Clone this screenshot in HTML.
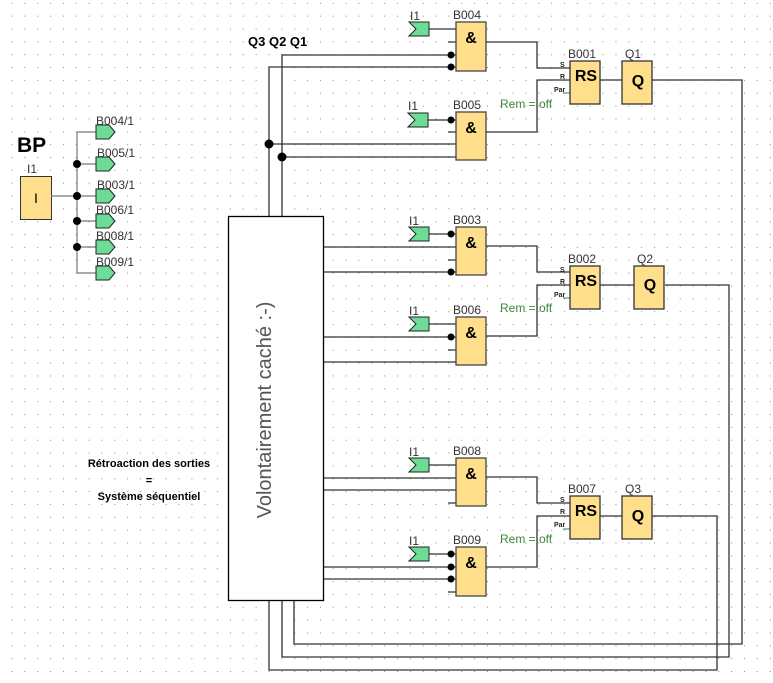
<!DOCTYPE html>
<html><head><meta charset="utf-8"><style>
html,body{margin:0;padding:0;background:#fff}
svg{display:block}
text{font-family:"Liberation Sans",sans-serif}
</style></head><body>
<svg width="773" height="683" viewBox="0 0 773 683" xmlns="http://www.w3.org/2000/svg">
<defs>
<pattern id="g" x="11.5" y="2.8" width="12.85" height="12.85" patternUnits="userSpaceOnUse">
<rect x="0" y="0" width="1" height="1" fill="#888"/>
</pattern>
<g id="flag"><path d="M0,0 H20 V14 H0 L7,7 Z" fill="#6ddc96" stroke="#222" stroke-width="1"/></g>
<g id="out"><path d="M0,0 H13 L19,7 L13,14 H0 Z" fill="#6ddc96" stroke="#222" stroke-width="1"/></g>
</defs>
<rect width="773" height="683" fill="url(#g)"/>

<text x="17" y="152" font-size="21" font-weight="bold">BP</text>
<text x="27" y="173" font-size="12" fill="#333">I1</text>
<rect x="20.5" y="176.5" width="31" height="43" fill="#ffdf8c" stroke="#333"/>
<text x="36" y="203" font-size="14" text-anchor="middle">I</text>
<g stroke="#777" stroke-width="1.2" fill="none">
<path d="M51,196 H97"/>
<path d="M77,132 V273"/>
<path d="M77,132 H97 M77,164 H97 M77,221 H97 M77,247 H97 M77,273 H97"/>
</g>
<g fill="#000"><circle cx="77" cy="164" r="4"/><circle cx="77" cy="196" r="4"/><circle cx="77" cy="221" r="4"/><circle cx="77" cy="247" r="4"/></g>
<use href="#out" x="96" y="125"/><use href="#out" x="96" y="157"/><use href="#out" x="96" y="189"/>
<use href="#out" x="96" y="214"/><use href="#out" x="96" y="240"/><use href="#out" x="96" y="266"/>
<g font-size="12" fill="#333">
<text x="96" y="125">B004/1</text><text x="97" y="157">B005/1</text><text x="97" y="189">B003/1</text>
<text x="96" y="214">B006/1</text><text x="96" y="240">B008/1</text><text x="96" y="266">B009/1</text>
</g>

<text x="248" y="46" font-size="13" font-weight="bold">Q3 Q2 Q1</text>
<g font-size="11" font-weight="bold" text-anchor="middle">
<text x="149" y="467">Rétroaction des sorties</text>
<text x="149" y="484">=</text>
<text x="149" y="500">Système séquentiel</text>
</g>

<g stroke="#333" stroke-width="1.3" fill="none">
<path d="M282,216 V55 H456"/>
<path d="M269,216 V67 H456"/>
<path d="M269,144 H456"/>
<path d="M282,157 H456"/>
<path d="M323,247 H456 M323,272 H456 M323,337 H456 M323,362 H456 M323,478 H456 M323,490 H456 M323,567 H456 M323,579 H456"/>
<path d="M428,29 H456 M428,120 H456 M428,234 H456 M428,324 H456 M428,465 H456 M428,554 H456"/>
<path d="M448,42 H456 M448,132 H456 M448,260 H456 M448,350 H456 M448,503 H456 M448,592 H456"/>
<path d="M486,42 H537 V68 H570 M486,132 H537 V80 H570"/>
<path d="M486,246 H537 V272 H570 M486,336 H537 V285 H570"/>
<path d="M486,477 H537 V503 H570 M486,567 H537 V516 H570"/>
<path d="M600,80 H622 M600,285 H634 M600,516 H622"/>
<path d="M652,80 H742 V644 H294 V600"/>
<path d="M665,285 H729 V657 H282 V600"/>
<path d="M652,516 H717 V670 H269 V600"/>
</g>
<g stroke="#3a8a3a" stroke-width="1"><path d="M563,93 H570 M563,298 H570 M563,529 H570"/></g>
<g fill="#000">
<circle cx="269" cy="144" r="4.5"/><circle cx="282" cy="157" r="4.5"/>
<circle cx="451" cy="55" r="3.5"/><circle cx="451" cy="67" r="3.5"/>
<circle cx="451" cy="120" r="3.5"/><circle cx="451" cy="234" r="3.5"/><circle cx="451" cy="272" r="3.5"/>
<circle cx="451" cy="337" r="3.5"/><circle cx="451" cy="554" r="3.5"/><circle cx="451" cy="567" r="3.5"/><circle cx="451" cy="579" r="3.5"/>
</g>

<rect x="228.5" y="216.5" width="95" height="384" fill="#fff" stroke="#000" stroke-width="1.3"/>
<text transform="translate(271,410) rotate(-90)" font-size="20" fill="#555" text-anchor="middle">Volontairement caché :-)</text>

<g font-size="12" fill="#333">
<use href="#flag" x="409" y="22"/><text x="410" y="20">I1</text>
<use href="#flag" x="408" y="113"/><text x="408" y="110">I1</text>
<use href="#flag" x="409" y="227"/><text x="409" y="225">I1</text>
<use href="#flag" x="409" y="317"/><text x="409" y="315">I1</text>
<use href="#flag" x="409" y="458"/><text x="409" y="456">I1</text>
<use href="#flag" x="409" y="547"/><text x="409" y="545">I1</text>
</g>

<g fill="#ffdf8c" stroke="#444" stroke-width="1.3">
<rect x="456" y="22" width="30" height="49"/><rect x="456" y="112" width="30" height="48"/>
<rect x="456" y="227" width="30" height="48"/><rect x="456" y="317" width="30" height="48"/>
<rect x="456" y="458" width="30" height="48"/><rect x="456" y="547" width="30" height="49"/>
</g>
<g font-size="16" font-weight="bold" text-anchor="middle">
<text x="471" y="43">&amp;</text><text x="471" y="133">&amp;</text><text x="471" y="248">&amp;</text>
<text x="471" y="338">&amp;</text><text x="471" y="479">&amp;</text><text x="471" y="568">&amp;</text>
</g>
<g font-size="12" fill="#333">
<text x="453" y="19">B004</text><text x="453" y="109">B005</text><text x="453" y="224">B003</text>
<text x="453" y="314">B006</text><text x="453" y="455">B008</text><text x="453" y="544">B009</text>
</g>

<g fill="#ffdf8c" stroke="#333" stroke-width="1.3">
<rect x="570" y="61" width="30" height="43"/><rect x="622" y="61" width="30" height="43"/>
<rect x="570" y="266" width="30" height="43"/><rect x="634" y="266" width="30" height="43"/>
<rect x="570" y="496" width="30" height="43"/><rect x="622" y="496" width="30" height="43"/>
</g>
<g font-size="16" font-weight="bold" text-anchor="middle">
<text x="586" y="81">RS</text><text x="638" y="86">Q</text>
<text x="586" y="286">RS</text><text x="650" y="290">Q</text>
<text x="586" y="516">RS</text><text x="638" y="521">Q</text>
</g>
<g font-size="12" fill="#333">
<text x="568" y="58">B001</text><text x="625" y="58">Q1</text>
<text x="568" y="263">B002</text><text x="637" y="263">Q2</text>
<text x="568" y="493">B007</text><text x="625" y="493">Q3</text>
</g>
<g font-size="7" fill="#222" font-weight="bold">
<text x="560" y="67">S</text><text x="560" y="79">R</text><text x="554" y="92">Par</text>
<text x="560" y="272">S</text><text x="560" y="284">R</text><text x="554" y="297">Par</text>
<text x="560" y="502">S</text><text x="560" y="514">R</text><text x="554" y="527">Par</text>
</g>
<g font-size="12" fill="#3a8a3a">
<text x="500" y="108">Rem = off</text><text x="500" y="312">Rem = off</text><text x="500" y="543">Rem = off</text>
</g>
</svg>
</body></html>
